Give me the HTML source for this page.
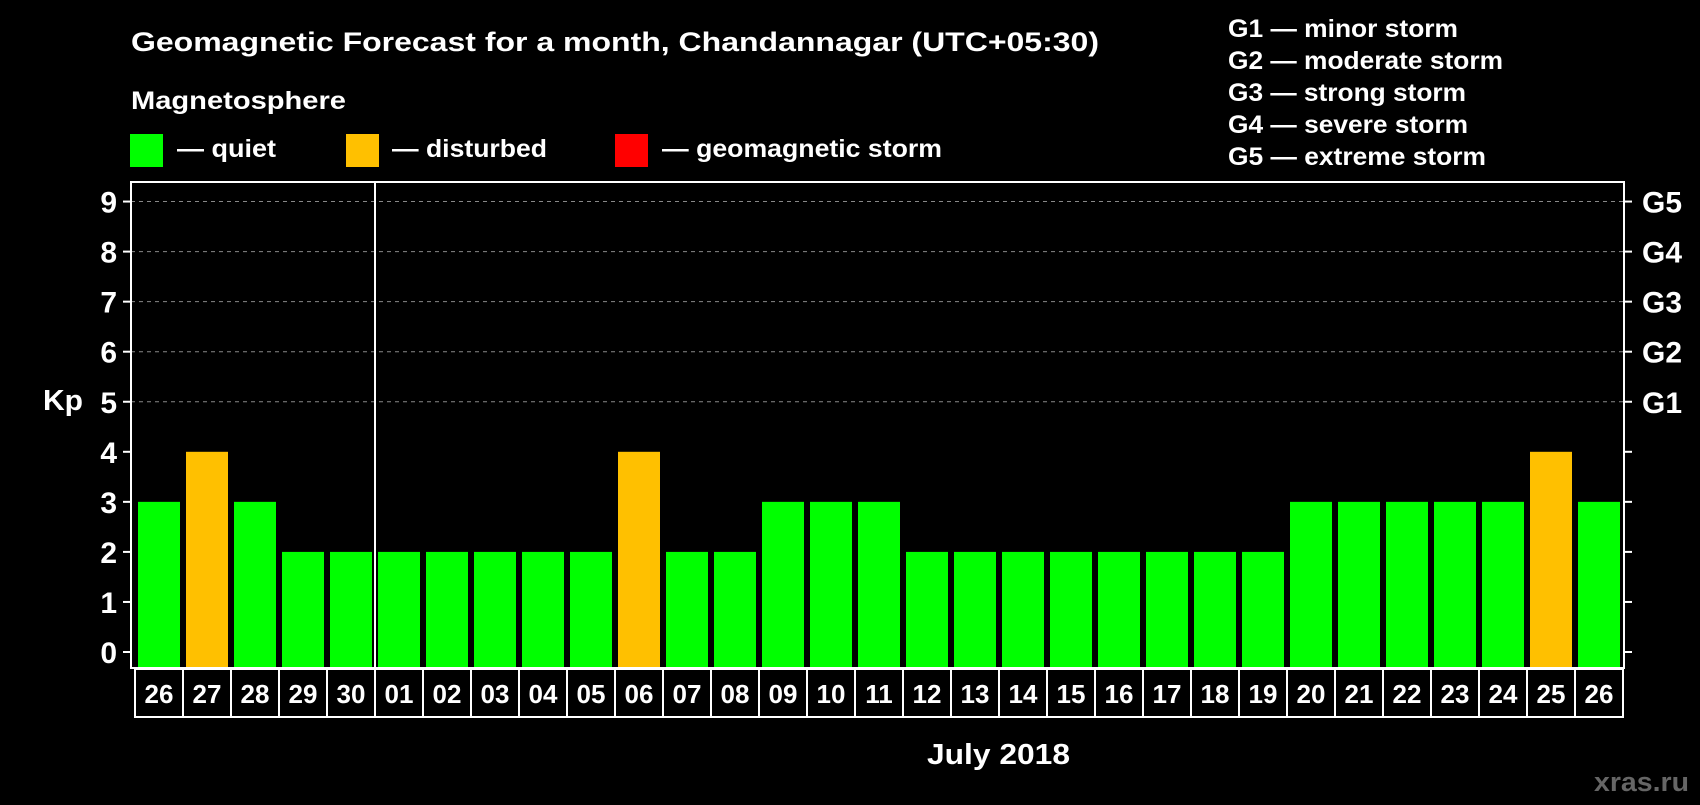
<!DOCTYPE html>
<html><head><meta charset="utf-8"><style>
body{margin:0;background:#000;width:1700px;height:800px;overflow:hidden;font-family:"Liberation Sans",Arial,sans-serif;}
svg text{font-family:"Liberation Sans",Arial,sans-serif;font-weight:bold;fill:#fff;}
</style></head><body>
<svg id="chart" width="1700" height="800" xmlns="http://www.w3.org/2000/svg">
<text x="131" y="51" font-size="27" textLength="968" lengthAdjust="spacingAndGlyphs">Geomagnetic Forecast for a month, Chandannagar (UTC+05:30)</text>
<text x="131" y="109" font-size="25" textLength="215" lengthAdjust="spacingAndGlyphs">Magnetosphere</text>
<g><rect x="130" y="134" width="33" height="33" fill="#00ff00"/><text x="177" y="157" font-size="25" textLength="99" lengthAdjust="spacingAndGlyphs">— quiet</text></g>
<g><rect x="346" y="134" width="33" height="33" fill="#ffc000"/><text x="392" y="157" font-size="25" textLength="155" lengthAdjust="spacingAndGlyphs">— disturbed</text></g>
<g><rect x="615" y="134" width="33" height="33" fill="#ff0000"/><text x="662" y="157" font-size="25" textLength="280" lengthAdjust="spacingAndGlyphs">— geomagnetic storm</text></g>
<g font-size="25">
<text x="1228" y="37" textLength="230" lengthAdjust="spacingAndGlyphs">G1 — minor storm</text>
<text x="1228" y="69" textLength="275" lengthAdjust="spacingAndGlyphs">G2 — moderate storm</text>
<text x="1228" y="101" textLength="238" lengthAdjust="spacingAndGlyphs">G3 — strong storm</text>
<text x="1228" y="133" textLength="240" lengthAdjust="spacingAndGlyphs">G4 — severe storm</text>
<text x="1228" y="165" textLength="258" lengthAdjust="spacingAndGlyphs">G5 — extreme storm</text>
</g>
<text x="43" y="410" font-size="29" textLength="40" lengthAdjust="spacingAndGlyphs">Kp</text>
<text x="927" y="764" font-size="29" textLength="143" lengthAdjust="spacingAndGlyphs">July 2018</text>
<text x="1594" y="791" font-size="27" textLength="95" lengthAdjust="spacingAndGlyphs" style="fill:#666">xras.ru</text>
<g id="plot"></g>
</svg>
<script>
const days=["26","27","28","29","30","01","02","03","04","05","06","07","08","09","10","11","12","13","14","15","16","17","18","19","20","21","22","23","24","25","26"];
const kp=[3,4,3,2,2,2,2,2,2,2,4,2,2,3,3,3,2,2,2,2,2,2,2,2,3,3,3,3,3,4,3];
const yTicks=[0,1,2,3,4,5,6,7,8,9];
const gLabels=["G1","G2","G3","G4","G5"];
const gLevels=[5,6,7,8,9];
const NS="http://www.w3.org/2000/svg";
const g=document.getElementById('plot');
const L=131,R=1624,T=182,B=668,x0=135,pitch=48;
const y=v=>652-v*50.05;
const xb=i=>x0+i*pitch;
function mk(t,a){const e=document.createElementNS(NS,t);for(const k in a)e.setAttribute(k,a[k]);g.appendChild(e);return e;}
yTicks.forEach(v=>{
  if(v>=5){const l=mk('line',{x1:L,x2:R,y1:y(v),y2:y(v),stroke:'#888','stroke-dasharray':'4,4','stroke-width':1});
  
  }
  const t1=mk('line',{x1:L-8,x2:L,y1:y(v),y2:y(v),stroke:'#fff','stroke-width':2});
  
  
  const t2=mk('line',{x1:R,x2:R+8,y1:y(v),y2:y(v),stroke:'#fff','stroke-width':2});
  
  
  const tx=mk('text',{x:117,y:y(v)+11,'font-size':30,'text-anchor':'end'});tx.textContent=v;
  
  
});
gLabels.forEach((s,i)=>{const tx=mk('text',{x:1642,y:y(gLevels[i])+11,'font-size':30,textLength:40,lengthAdjust:'spacingAndGlyphs'});tx.textContent=s;
  
  });
kp.forEach((v,i)=>{
  const c=v>=5?'#ff0000':(v>=4?'#ffc000':'#00ff00');
  const r=mk('rect',{x:xb(i)+3,y:y(v),width:42,height:B-1-y(v),fill:c});
  
  
  const b=mk('rect',{x:xb(i),y:B+1,width:pitch,height:48,fill:'none',stroke:'#fff','stroke-width':2});
  
  
  const tx=mk('text',{x:xb(i)+pitch/2,y:703,'font-size':26,'text-anchor':'middle'});tx.textContent=days[i];
  
  
});
const fr=mk('rect',{x:L,y:T,width:R-L,height:B-T,fill:'none',stroke:'#fff','stroke-width':2});


const mi=days.indexOf("01");
const ml=mk('line',{x1:xb(mi),x2:xb(mi),y1:T,y2:717,stroke:'#fff','stroke-width':2});


</script>
</body></html>
